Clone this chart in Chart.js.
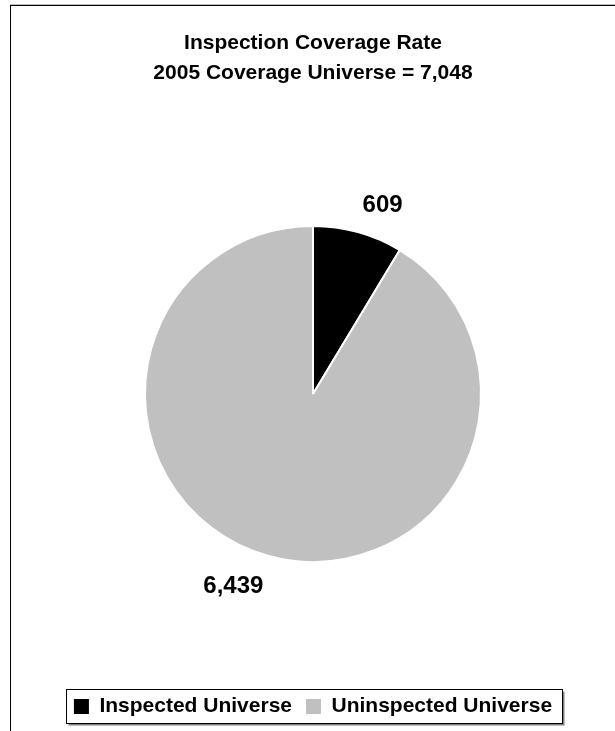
<!DOCTYPE html>
<html lang="en">
<head>
  <meta charset="UTF-8" />
  <title>Inspection Coverage Rate</title>
  <script src="https://cdn.jsdelivr.net/npm/chart.js"></script>
  <style>
    body {
      margin: 0;
      padding: 0;
      background: #fff;
      width: 615px;
      height: 731px;
      overflow: hidden;
      position: relative;
    }
    .frame {
      position: absolute;
      left: 10px;
      top: 5px;
      width: 620px;
      height: 740px;
      border-top: 1px solid #000;
      border-left: 1px solid #000;
      box-shadow: 0 -1px 0 #bbb;
    }
    .chart-wrap {
      position: absolute;
      left: 10px;
      top: 5px;
      width: 606px;
      height: 726px;
    }
  </style>
</head>
<body>
  <div class="frame"></div>
  <div class="chart-wrap">
    <canvas id="pieChart" width="606" height="726"></canvas>
  </div>

  <script>
    const categories = ['Inspected Universe', 'Uninspected Universe'];
    const counts = [609, 6439];
    const sliceColors = ['#000000', '#c0c0c0'];
    const titleLines = ['Inspection Coverage Rate', '2005 Coverage Universe = 7,048'];

    const FONT = "'Liberation Sans', Arial, Helvetica, sans-serif";

    // value labels just outside each slice, box pushed away from the pie
    const outsideLabels = {
      id: 'outsideLabels',
      afterDatasetsDraw(chart) {
        const ctx = chart.ctx;
        const meta = chart.getDatasetMeta(0);
        ctx.save();
        ctx.font = 'bold 24px ' + FONT;
        ctx.fillStyle = '#000';
        meta.data.forEach((arc, i) => {
          const p = arc.getProps(['x', 'y', 'startAngle', 'endAngle', 'outerRadius'], true);
          const mid = (p.startAngle + p.endAngle) / 2;
          const r = p.outerRadius + 17;
          const ax = p.x + Math.cos(mid) * r;
          const ay = p.y + Math.sin(mid) * r + 2;
          ctx.textAlign = Math.cos(mid) >= 0 ? 'left' : 'right';
          ctx.textBaseline = Math.sin(mid) < 0 ? 'bottom' : 'top';
          ctx.fillText(counts[i].toLocaleString('en-US'), ax, ay);
        });
        ctx.restore();
      }
    };

    // framed legend box with a grey drop shadow
    const legendFrame = {
      id: 'legendFrame',
      beforeDraw(chart) {
        const boxes = chart.legend && chart.legend.legendHitBoxes;
        if (!boxes || !boxes.length) return;
        const first = boxes[0];
        const last = boxes[boxes.length - 1];
        const left = Math.round(first.left - 8) + 0.5;
        const right = Math.round(last.left + last.width + 10) + 0.5;
        const mid = first.top + first.height / 2;
        const top = Math.round(mid - 18) + 0.5;
        const bottom = Math.round(mid + 16) + 0.5;
        const ctx = chart.ctx;
        ctx.save();
        ctx.fillStyle = '#808080';
        ctx.fillRect(left + 2, top + 2, right - left, bottom - top);
        ctx.fillStyle = '#fff';
        ctx.fillRect(left, top, right - left, bottom - top);
        ctx.strokeStyle = '#000';
        ctx.lineWidth = 1;
        ctx.strokeRect(left, top, right - left, bottom - top);
        ctx.restore();
      }
    };

    const ctx = document.getElementById('pieChart').getContext('2d');
    const chart = new Chart(ctx, {
      type: 'pie',
      data: {
        labels: categories,
        datasets: [{
          data: counts,
          backgroundColor: sliceColors,
          borderColor: '#fff',
          borderWidth: 2,
          radius: 168
        }]
      },
      options: {
        responsive: false,
        animation: false,
        layout: {
          padding: { top: 0, bottom: 4, left: 0, right: 0 }
        },
        plugins: {
          tooltip: { enabled: false },
          title: {
            display: true,
            text: titleLines,
            color: '#000',
            font: { family: FONT, size: 21, weight: 'bold', lineHeight: 1.4 },
            padding: { top: 24, bottom: 18 }
          },
          legend: {
            position: 'bottom',
            onClick: null,
            labels: {
              color: '#000',
              font: { family: FONT, size: 21, weight: 'bold' },
              boxWidth: 15,
              boxHeight: 15,
              padding: 14,
              generateLabels(chart) {
                const items = Chart.overrides.pie.plugins.legend.labels.generateLabels(chart);
                items.forEach(item => {
                  item.lineWidth = 0;
                  item.strokeStyle = 'rgba(0,0,0,0)';
                });
                return items;
              }
            }
          }
        }
      },
      plugins: [legendFrame, outsideLabels]
    });
  </script>
</body>
</html>
